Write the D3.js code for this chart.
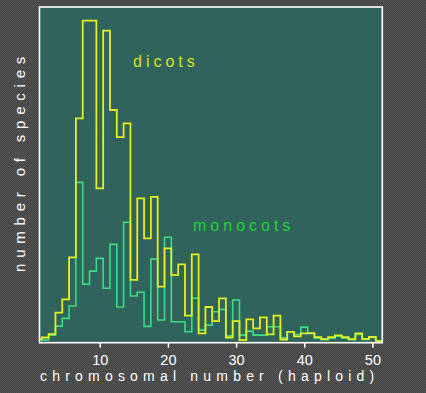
<!DOCTYPE html>
<html>
<head>
<meta charset="utf-8">
<script src="https://cdn.jsdelivr.net/npm/d3@7"></script>
<style>
  html, body { margin: 0; padding: 0; background: #4a4a4a; }
  svg { display: block; }
</style>
</head>
<body>
<svg id="chart" width="426" height="393"></svg>
<script>
// chromosome number (haploid), one bin per integer
const chromosomeNumbers = d3.range(1, 52);
// relative number of species per chromosome number (no y scale on the original)
const dicots = [1.0, 1.5, 2.5, 8.9, 12.9, 25.4, 66.9, 96.1, 96.1, 46.0,
  93.1, 69.4, 61.3, 65.4, 18.7, 43.0, 31.1, 43.5, 16.7, 28.1,
  20.1, 23.3, 8.0, 26.3, 2.7, 10.6, 6.4, 13.2, 1.5, 6.4,
  0.7, 6.9, 4.2, 7.5, 2.4, 8.0, 0.9, 3.2, 1.8, 2.7,
  2.8, 1.6, 1.0, 1.6, 2.1, 1.6, 1.0, 2.7, 1.1, 1.7, 0.5];
const monocots = [0.7, 0.7, 2.2, 4.9, 7.2, 10.9, 47.8, 17.4, 21.3, 25.1,
  16.2, 29.3, 10.6, 35.9, 13.9, 15.0, 4.8, 24.9, 6.7, 31.4,
  6.2, 6.2, 3.2, 13.2, 3.7, 5.2, 9.2, 9.9, 2.0, 12.7,
  2.2, 3.4, 2.2, 2.2, 4.7, 4.7, 1.4, 3.2, 2.4, 4.6,
  2.7, 1.3, 0.8, 1.3, 1.9, 1.3, 0.8, 2.4, 0.9, 1.5, 0.2];
const xTicks = [10, 20, 30, 40, 50];
const seriesNames = ["dicots", "monocots"];
const xTitle = "chromosomal number (haploid)";
const yTitle = "number of species";

const svg = d3.select("#chart");
const defs = svg.append("defs");

// dithered dark-grey background
const pat = defs.append("pattern").attr("id", "dither")
  .attr("width", 2).attr("height", 2).attr("patternUnits", "userSpaceOnUse");
pat.append("rect").attr("width", 2).attr("height", 2).attr("fill", "#474747");
pat.append("rect").attr("width", 1).attr("height", 1).attr("fill", "#515151");
pat.append("rect").attr("x", 1).attr("y", 1).attr("width", 1).attr("height", 1).attr("fill", "#515151");
svg.append("rect").attr("width", 426).attr("height", 393).attr("fill", "url(#dither)");

const plot = { left: 39.5, top: 7, right: 382.3, bottom: 342.7 };

const x = d3.scaleLinear().domain([1.16, 51.45]).range([plot.left, plot.right]);
const y = d3.scaleLinear().domain([0, 100]).range([342.5, 7.5]);

defs.append("clipPath").attr("id", "clip").append("rect")
  .attr("x", plot.left + 0.8).attr("y", plot.top + 0.8)
  .attr("width", plot.right - plot.left - 1.6).attr("height", plot.bottom - plot.top - 1.6);

svg.append("rect")
  .attr("x", plot.left).attr("y", plot.top)
  .attr("width", plot.right - plot.left).attr("height", plot.bottom - plot.top)
  .attr("fill", "#30635b");

function stepPoints(values) {
  const pts = chromosomeNumbers.map((n, i) => [n - 0.5, values[i]]);
  pts.push([chromosomeNumbers[chromosomeNumbers.length - 1] + 0.5, values[values.length - 1]]);
  return pts;
}
const line = d3.line().x(d => x(d[0])).y(d => y(d[1])).curve(d3.curveStepAfter);

const g = svg.append("g").attr("clip-path", "url(#clip)");
g.append("path").attr("d", line(stepPoints(monocots)))
  .attr("fill", "none").attr("stroke", "#3ddc86").attr("stroke-width", 1.6);
g.append("path").attr("d", line(stepPoints(dicots)))
  .attr("fill", "none").attr("stroke", "#e6f01c").attr("stroke-width", 1.8);

// frame
svg.append("rect")
  .attr("x", plot.left).attr("y", plot.top)
  .attr("width", plot.right - plot.left).attr("height", plot.bottom - plot.top)
  .attr("fill", "none").attr("stroke", "#ffffff").attr("stroke-width", 1.6);

const font = "Liberation Sans, Arial, sans-serif";

// x axis
const xAxis = d3.axisBottom(x).tickValues(xTicks).tickSize(5).tickPadding(0).tickSizeOuter(0);
const ax = svg.append("g").attr("transform", `translate(0,${plot.bottom})`).call(xAxis);
ax.select(".domain").remove();
ax.selectAll(".tick line").attr("stroke", "#ffffff").attr("stroke-width", 1.5);
ax.selectAll(".tick text").attr("fill", "#ffffff")
  .attr("font-family", font).attr("font-size", 14.5)
  .attr("y", 22).attr("dy", null);

svg.append("text").attr("x", 40).attr("y", 381)
  .attr("fill", "#ffffff").attr("font-family", font).attr("font-size", 14)
  .style("letter-spacing", "5.2px").text(xTitle);

svg.append("text")
  .attr("transform", "translate(25,272) rotate(-90)")
  .attr("fill", "#ffffff").attr("font-family", font).attr("font-size", 15)
  .style("letter-spacing", "5.8px").text(yTitle);

svg.append("text").attr("x", 133).attr("y", 66.5)
  .attr("fill", "#d8e41e").attr("font-family", font).attr("font-size", 16)
  .style("letter-spacing", "4px").text(seriesNames[0]);
svg.append("text").attr("x", 193).attr("y", 230.5)
  .attr("fill", "#22d43c").attr("font-family", font).attr("font-size", 16)
  .style("letter-spacing", "4px").text(seriesNames[1]);
</script>
</body>
</html>
